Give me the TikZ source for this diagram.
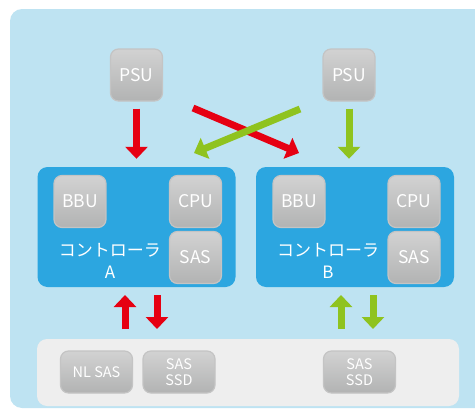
\documentclass[tikz,border=0pt]{standalone}
\usepackage{fontspec}
\setmainfont{Noto Sans CJK JP}
\usetikzlibrary{arrows.meta}
\definecolor{skyback}{HTML}{BEE3F2}
\definecolor{ctrlblue}{HTML}{2CA6E0}
\definecolor{unitlight}{HTML}{D2D2D2}
\definecolor{unitdark}{HTML}{B2B3B3}
\definecolor{unitedge}{HTML}{C4C4C4}
\definecolor{pathred}{HTML}{E60012}
\definecolor{pathgreen}{HTML}{8FC31F}
\definecolor{diskpanel}{HTML}{EEEEEE}
\begin{document}
\begin{tikzpicture}[x=1pt,y=-1pt,
    unit/.style={draw=unitedge,line width=1.2pt,rounded corners=8pt,top color=unitlight,bottom color=unitdark,
      text=white,minimum width=52pt,minimum height=52pt,inner sep=0pt,font=\fontsize{17.5}{19}\selectfont},
    disk/.style={unit,minimum width=72pt,minimum height=42pt,align=center,font=\fontsize{14.5}{16}\selectfont},
    ctrl/.style={fill=ctrlblue,rounded corners=10pt,minimum width=198pt,minimum height=120pt,inner sep=0pt},
    ctrllabel/.style={text=white,align=center,font=\fontsize{17}{22}\selectfont},
    feed/.style={line width=7pt,-{Triangle[width=22pt,length=12pt]}}]
    \useasboundingbox (0,0) rectangle (475,410);
    \clip (0,0) rectangle (475,410);
    \fill[skyback,rounded corners=12pt] (10,9) rectangle (495,408);
    \node[unit] (psuA) at (136.5,75) {PSU};
    \node[unit] (psuB) at (349,75) {PSU};
    \node[ctrl] (ctrlA) at (136.5,227) {};
    \node[ctrl] (ctrlB) at (355,227) {};
    \node[unit] (bbuA) at (80,201.5) {BBU};
    \node[unit] (cpuA) at (195.5,201.5) {CPU};
    \node[unit] (sasA) at (195.5,257.5) {SAS};
    \node[ctrllabel] (nameA) at (110,261) {コントローラ\\A};
    \node[unit] (bbuB) at (299,201.5) {BBU};
    \node[unit] (cpuB) at (414,201.5) {CPU};
    \node[unit] (sasB) at (414,257.5) {SAS};
    \node[ctrllabel] (nameB) at (328,261) {コントローラ\\B};
    \node[fill=diskpanel,rounded corners=10pt,minimum width=422pt,minimum height=67pt] (panel) at (248,372.5) {};
    \node[disk] (nlsas) at (96.5,372) {NL SAS};
    \node[disk] (ssdA) at (179,372) {SAS\\SSD};
    \node[disk] (ssdB) at (359.5,372) {SAS\\SSD};
    \coordinate (redfrom) at (193,108);
    \coordinate (redto) at (299,153);
    \coordinate (greenfrom) at (300,109);
    \coordinate (greento) at (194,153);
    \coordinate (redupfrom) at (125,329);
    \coordinate (redupto) at (125,295);
    \coordinate (reddownfrom) at (157,295);
    \coordinate (reddownto) at (157,329);
    \coordinate (greenupfrom) at (341,329);
    \coordinate (greenupto) at (341,295);
    \coordinate (greendownfrom) at (373,295);
    \coordinate (greendownto) at (373,329);
    \draw[feed,pathred,shorten <=7pt,shorten >=8pt] (psuA) -- (ctrlA);
    \draw[feed,pathgreen,shorten <=7pt,shorten >=8pt] (psuB.south) -- (psuB.south |- ctrlB.north);
    \draw[feed,pathred] (redfrom) -- (redto);
    \draw[feed,pathgreen] (greenfrom) -- (greento);
    \draw[feed,pathred] (redupfrom) -- (redupto);
    \draw[feed,pathred] (reddownfrom) -- (reddownto);
    \draw[feed,pathgreen] (greenupfrom) -- (greenupto);
    \draw[feed,pathgreen] (greendownfrom) -- (greendownto);
\end{tikzpicture}
\end{document}
